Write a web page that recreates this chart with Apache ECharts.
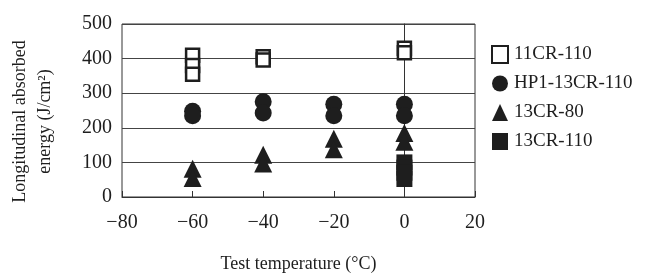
<!DOCTYPE html>
<html>
<head>
<meta charset="utf-8">
<script src="https://cdn.jsdelivr.net/npm/echarts@6/dist/echarts.min.js"></script>
<style>
 html,body{margin:0;padding:0;background:#fff;}
 #chart{width:658px;height:273px;}
</style>
</head>
<body>
<div id="chart"></div>
<script>
// 数据 (temperature °C, energy J/cm2)
var xTicks = [-80, -60, -40, -20, 0, 20];
var yTicks = [0, 100, 200, 300, 400, 500];
var s11CR110 = [[-60, 410], [-60, 380], [-60, 355], [-40, 405], [-40, 396], [0, 430], [0, 417]];
var sHP1 = [[-60, 248], [-60, 235], [-40, 275], [-40, 243], [-20, 268], [-20, 235], [0, 268], [0, 235]];
var s13CR80 = [[-60, 82], [-60, 55], [-40, 122], [-40, 97], [-20, 168], [-20, 138], [0, 185], [0, 160]];
var s13CR110 = [[0, 100], [0, 85], [0, 70], [0, 52]];

var font = 'Liberation Serif';
var ink = '#1e1e1e';
var myChart = echarts.init(document.getElementById('chart'));
var option = {
  animation: false,
  textStyle: { fontFamily: font, color: ink },
  grid: {
    left: 122, top: 24, width: 353, height: 173,
    outerBoundsMode: 'none', containLabel: false,
    show: true, borderColor: '#333', borderWidth: 1, backgroundColor: 'transparent'
  },
  legend: {
    orient: 'vertical',
    left: 486, top: 40,
    itemGap: 10,
    itemWidth: 16, itemHeight: 17,
    textStyle: { fontFamily: font, fontSize: 19, color: ink, padding: [0, 0, 0, 1] },
    data: ['11CR-110', 'HP1-13CR-110', '13CR-80', '13CR-110']
  },
  xAxis: {
    type: 'value', min: xTicks[0], max: xTicks[xTicks.length - 1], interval: 20,
    name: 'Test temperature (\u00b0C)', nameLocation: 'middle', nameGap: 58,
    nameTextStyle: { fontFamily: font, fontSize: 18, color: ink },
    axisLine: { show: true, lineStyle: { color: '#333', width: 1 } },
    axisTick: { show: true, inside: true, length: 6, lineStyle: { color: '#333' } },
    axisLabel: {
      fontFamily: font, fontSize: 20, color: ink, margin: 16,
      formatter: function (v) { return v < 0 ? '\u2212' + Math.abs(v) : '' + v; }
    },
    splitLine: { show: false }
  },
  yAxis: {
    type: 'value', min: yTicks[0], max: yTicks[yTicks.length - 1], interval: 100,
    name: 'Longitudinal absorbed\nenergy (J/cm\u00b2)', nameLocation: 'middle', nameGap: 64, nameRotate: 90,
    nameTextStyle: { fontFamily: font, fontSize: 18, color: ink, lineHeight: 25, padding: [0, 22, 0, 0] },
    axisLine: { show: true, lineStyle: { color: '#333', width: 1 } },
    axisTick: { show: false },
    axisLabel: { fontFamily: font, fontSize: 20, color: ink, margin: 10 },
    splitLine: { show: true, lineStyle: { color: '#444', width: 1 } }
  },
  series: [
    {
      name: '11CR-110', type: 'scatter', symbol: 'rect', symbolSize: 13,
      itemStyle: { color: '#fff', borderColor: ink, borderWidth: 2.5, opacity: 1 },
      data: s11CR110, z: 4
    },
    {
      name: 'HP1-13CR-110', type: 'scatter', symbol: 'circle', symbolSize: 17,
      itemStyle: { color: ink, opacity: 1 },
      data: sHP1, z: 3
    },
    {
      name: '13CR-80', type: 'scatter', symbol: 'triangle', symbolSize: 18,
      itemStyle: { color: ink, opacity: 1 },
      data: s13CR80, z: 3
    },
    {
      name: '13CR-110', type: 'scatter', symbol: 'rect', symbolSize: 16,
      itemStyle: { color: ink, opacity: 1 },
      data: s13CR110, z: 3
    }
  ]
};
myChart.setOption(option);
</script>
</body>
</html>
